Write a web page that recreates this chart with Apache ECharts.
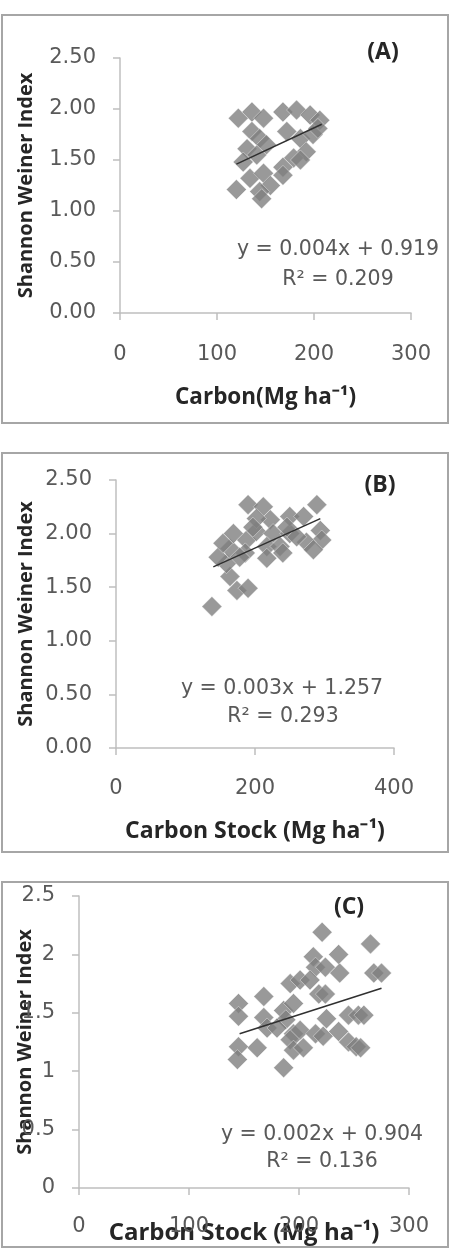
<!DOCTYPE html>
<html>
<head>
<meta charset="utf-8">
<script src="https://cdn.jsdelivr.net/npm/echarts@6/dist/echarts.min.js"></script>
<style>
  html, body { margin: 0; padding: 0; background: #fff; }
  #chart { width: 452px; height: 1249px; }
</style>
</head>
<body>
<div id="chart"></div>
<script>
// panel A: Carbon vs Shannon Weiner Index
const aCarbon = [120, 122, 136, 148, 168, 182, 196, 206, 136, 144, 131, 141, 151, 172, 186, 199, 192, 179, 168, 204, 168, 186, 134, 148, 155, 144, 146, 127]
const aShannon = [1.21, 1.91, 1.97, 1.91, 1.97, 1.99, 1.94, 1.89, 1.78, 1.71, 1.61, 1.55, 1.65, 1.78, 1.71, 1.75, 1.58, 1.52, 1.43, 1.81, 1.35, 1.50, 1.32, 1.37, 1.25, 1.19, 1.12, 1.48]
const aTrend = [[120, 1.46], [208, 1.85]]

// panel B: Carbon stock
const bCarbon = [138, 174, 190, 164, 159, 147, 164, 154, 169, 188, 202, 190, 212, 222, 202, 226, 217, 217, 236, 240, 250, 250, 270, 289, 294, 296, 274, 284, 260, 246, 197, 186, 178]
const bShannon = [1.32, 1.47, 1.49, 1.60, 1.72, 1.78, 1.86, 1.91, 2.00, 1.94, 2.02, 2.27, 2.25, 2.13, 2.14, 2.00, 1.88, 1.77, 1.88, 1.82, 2.00, 2.16, 2.16, 2.27, 2.03, 1.94, 1.92, 1.85, 1.97, 2.06, 2.06, 1.82, 1.78]
const bTrend = [[140, 1.69], [294, 2.14]]

// panel C: Carbon stock
const cCarbon = [221, 265, 236, 213, 215, 224, 237, 268, 275, 192, 201, 210, 218, 224, 168, 145, 145, 168, 171, 186, 195, 188, 180, 195, 201, 192, 195, 204, 215, 222, 225, 236, 245, 254, 259, 245, 252, 256, 145, 162, 144, 186]
const cShannon = [2.19, 2.09, 2.00, 1.98, 1.89, 1.89, 1.84, 1.84, 1.84, 1.75, 1.78, 1.78, 1.66, 1.66, 1.64, 1.58, 1.47, 1.46, 1.37, 1.52, 1.58, 1.44, 1.37, 1.32, 1.35, 1.27, 1.18, 1.20, 1.32, 1.30, 1.45, 1.34, 1.48, 1.48, 1.48, 1.25, 1.21, 1.20, 1.21, 1.20, 1.10, 1.03]
const cTrend = [[146, 1.32], [275, 1.71]]

const equations = [
  ['y = 0.004x + 0.919', 'R² = 0.209'],
  ['y = 0.003x + 1.257', 'R² = 0.293'],
  ['y = 0.002x + 0.904', 'R² = 0.136']
]
const panelTags = ['(A)', '(B)', '(C)']
const xTitles = ['Carbon(Mg ha⁻¹)', 'Carbon Stock (Mg ha⁻¹)', 'Carbon Stock (Mg ha⁻¹)']
const yTitle = 'Shannon Weiner Index'

const axisColor = '#bfbfbf'
const labelFont = 'DejaVu Sans'
const titleFont = 'Open Sans'

const pair = (xs, ys) => xs.map((x, i) => [x, ys[i]])

const makeX = (idx, max, interval, gap, margin, titleSize) => ({
  type: 'value',
  gridIndex: idx,
  min: 0,
  max: max,
  interval: interval,
  name: xTitles[idx],
  nameLocation: 'middle',
  nameGap: gap,
  nameMoveOverlap: false,
  nameTextStyle: { fontFamily: titleFont, fontWeight: 'bold', fontSize: titleSize, color: '#262626' },
  axisLine: { lineStyle: { color: axisColor, width: 1.5 } },
  axisTick: { length: 7, lineStyle: { color: axisColor, width: 1.5 } },
  splitLine: { show: false },
  axisLabel: { margin: margin, fontFamily: labelFont, fontSize: 21, color: '#595959' },
  z: 1
})

const makeY = (idx, gap, fmt) => ({
  type: 'value',
  gridIndex: idx,
  min: 0,
  max: 2.5,
  interval: 0.5,
  name: yTitle,
  nameLocation: 'middle',
  nameGap: gap,
  nameRotate: 90,
  nameMoveOverlap: false,
  nameTextStyle: { fontFamily: titleFont, fontWeight: 'bold', fontSize: 20, color: '#262626' },
  axisLine: { show: true, lineStyle: { color: axisColor, width: 1.5 } },
  axisTick: { show: true, length: 7, lineStyle: { color: axisColor, width: 1.5 } },
  splitLine: { show: false },
  axisLabel: { margin: 24, fontFamily: labelFont, fontSize: 21, color: '#595959', formatter: fmt },
  z: 1
})

const scatter = (idx, data) => ({
  type: 'scatter',
  xAxisIndex: idx,
  yAxisIndex: idx,
  symbol: 'diamond',
  symbolSize: 20,
  data: data,
  itemStyle: { color: '#808080', borderColor: 'rgba(255,255,255,0.6)', borderWidth: 0.8 },
  z: 2
})

const trend = (idx, data) => ({
  type: 'line',
  xAxisIndex: idx,
  yAxisIndex: idx,
  data: data,
  symbol: 'none',
  lineStyle: { color: '#303030', width: 1.5 },
  z: 3
})

const box = (top, bottom) => ({
  type: 'rect',
  shape: { x: 2, y: top, width: 446, height: bottom - top },
  style: { fill: 'none', stroke: '#a6a6a6', lineWidth: 2 },
  z: 0
})

const txt = (text, x, y, opts) => ({
  type: 'text',
  x: x,
  y: y,
  style: Object.assign({
    text: text,
    align: 'center',
    verticalAlign: 'middle',
    fontFamily: labelFont,
    fontSize: 20.5,
    fill: '#595959'
  }, opts || {}),
  z: 100
})

const tagStyle = { fontFamily: titleFont, fontWeight: 'bold', fontSize: 23, fill: '#262626' }

const chart = echarts.init(document.getElementById('chart'))
chart.setOption({
  animation: false,
  grid: [
    { left: 120, top: 58, width: 291, height: 255 },
    { left: 116, top: 480, width: 278, height: 268 },
    { left: 79, top: 896, width: 330, height: 292 }
  ],
  xAxis: [
    makeX(0, 300, 100, 73, 31, 22.5),
    makeX(1, 400, 200, 72, 30, 23),
    makeX(2, 300, 100, 33, 28, 24)
  ],
  yAxis: [
    makeY(0, 84, v => v.toFixed(2)),
    makeY(1, 80, v => v.toFixed(2)),
    makeY(2, 44, v => String(v))
  ],
  series: [
    scatter(0, pair(aCarbon, aShannon)),
    trend(0, aTrend),
    scatter(1, pair(bCarbon, bShannon)),
    trend(1, bTrend),
    scatter(2, pair(cCarbon, cShannon)),
    trend(2, cTrend)
  ],
  graphic: [
    box(15, 423),
    box(453, 852),
    box(882, 1247),
    txt(panelTags[0], 383, 52, tagStyle),
    txt(panelTags[1], 380, 485, tagStyle),
    txt(panelTags[2], 349, 907, tagStyle),
    txt(equations[0][0], 338, 250),
    txt(equations[0][1], 338, 280),
    txt(equations[1][0], 282, 689),
    txt(equations[1][1], 283, 717),
    txt(equations[2][0], 322, 1135),
    txt(equations[2][1], 322, 1162)
  ]
})
</script>
</body>
</html>
